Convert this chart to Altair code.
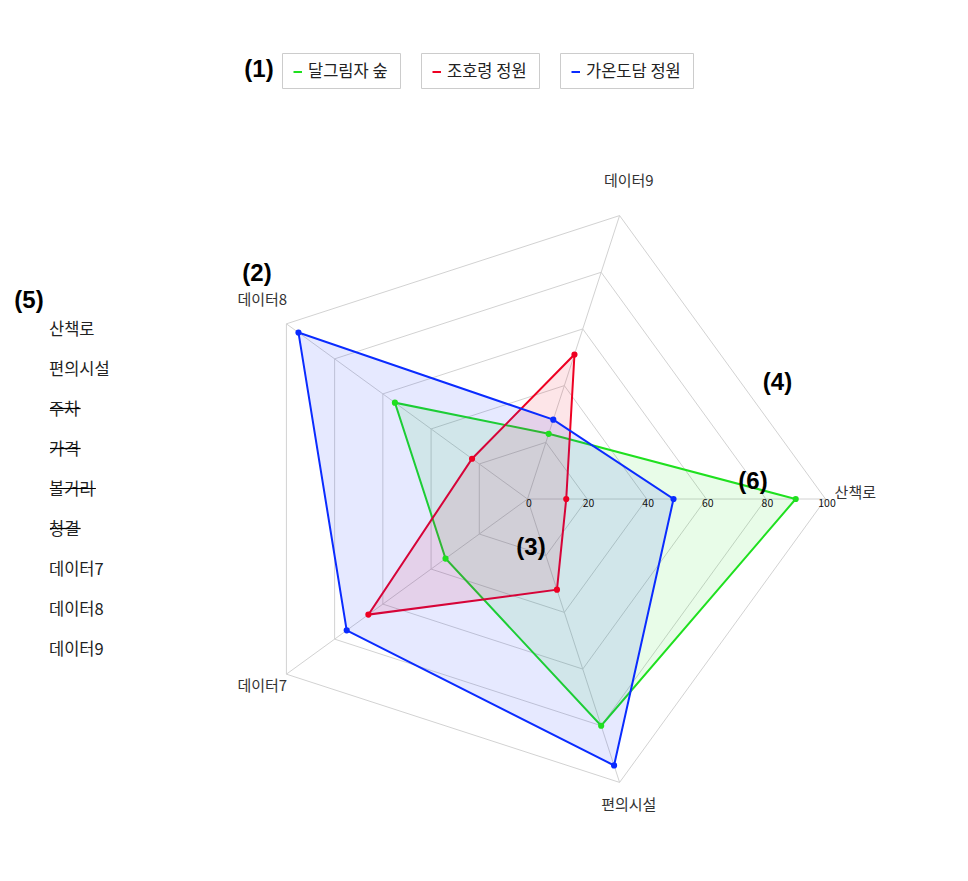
import altair as alt
import pandas as pd

# ---------------- data ----------------
axis_labels = ["산책로", "편의시설", "데이터7", "데이터8", "데이터9"]
series_names = ["달그림자 숲", "조호령 정원", "가온도담 정원"]
series_colors = ["#1fe01f", "#ee0022", "#0a2bff"]
green_values = [90, 80, 34, 55, 23]
red_values = [13, 32, 66, 23, 51]
blue_values = [49, 94, 75, 95, 28]
grid_levels = [20, 40, 60, 80, 100]
tick_values = [0, 20, 40, 60, 80, 100]
list_items = ["산책로", "편의시설", "주차", "가격", "볼거리", "청결", "데이터7", "데이터8", "데이터9"]
hidden_items = ["주차", "가격", "볼거리", "청결"]
annotation_labels = ["(1)", "(2)", "(3)", "(4)", "(5)", "(6)"]

# ---------------- layout (plot-area pixels) ----------------
W, H = 950, 860
CX, CY = 519.5, 491.0      # radar centre
PX = 2.98                  # pixels per value unit
KR = "Noto Sans CJK KR"
LEGEND_BOXES = [(274.5, 392.5), (413.5, 531.5), (552.5, 685.5)]
LEGEND_TOP, LEGEND_BOTTOM, LEGEND_MID = 45.5, 80.5, 64
ANNOT_POS = [(251, 62), (249, 266), (523, 540), (769.5, 374.5), (21, 293), (745, 474)]
LIST_X = 41
LIST_Y0, LIST_Y1 = 322, 642
STRIKE_Y0, STRIKE_Y1 = 320.5, 640.5

xs = alt.Scale(domain=[-CX / PX, (W - CX) / PX], nice=False, zero=False)
ys = alt.Scale(domain=[-(H - CY) / PX, CY / PX], nice=False, zero=False)
X = lambda f: alt.X(f, type="quantitative", scale=xs, axis=None)
Y = lambda f: alt.Y(f, type="quantitative", scale=ys, axis=None)

ANG = "datum.k * 2 * PI / 5"

# ---------------- tables ----------------
rows = []
for name, vals in zip(series_names, [green_values, red_values, blue_values]):
    for k, v in enumerate(vals):
        rows.append({"series": name, "k": k, "value": v})
radar_df = pd.DataFrame(rows)

grid_df = pd.DataFrame([{"level": lv, "k": k} for lv in grid_levels for k in range(len(axis_labels))])
axis_df = pd.DataFrame({"k": list(range(len(axis_labels))), "label": axis_labels})
tick_df = pd.DataFrame({"t": tick_values})
list_df = pd.DataFrame({"i": list(range(len(list_items))), "item": list_items,
                        "hidden": [it in hidden_items for it in list_items]})
legend_df = pd.DataFrame({"series": series_names, "color": series_colors})
annot_df = pd.DataFrame({"label": annotation_labels})

layers = []

# grid pentagons
layers.append(
    alt.Chart(grid_df)
    .transform_calculate(x=f"datum.level * cos({ANG})", y=f"-datum.level * sin({ANG})")
    .mark_line(interpolate="linear-closed", stroke="#d2d2d2", strokeWidth=1)
    .encode(x=X("x"), y=Y("y"), detail="level:N", order=alt.Order("k:Q"))
)
# spokes
layers.append(
    alt.Chart(axis_df)
    .transform_calculate(x0="0", y0="0", x1=f"100 * cos({ANG})", y1=f"-100 * sin({ANG})")
    .mark_rule(stroke="#d2d2d2", strokeWidth=1)
    .encode(x=X("x0"), y=Y("y0"), x2="x1:Q", y2="y1:Q")
)
# series polygons
for name, col in zip(series_names, series_colors):
    layers.append(
        alt.Chart(radar_df)
        .transform_filter(alt.datum.series == name)
        .transform_calculate(x=f"datum.value * cos({ANG})", y=f"-datum.value * sin({ANG})")
        .mark_line(interpolate="linear-closed", stroke=col, strokeWidth=2, fill=col, fillOpacity=0.1)
        .encode(x=X("x"), y=Y("y"), order=alt.Order("k:Q"))
    )
for name, col in zip(series_names, series_colors):
    layers.append(
        alt.Chart(radar_df)
        .transform_filter(alt.datum.series == name)
        .transform_calculate(x=f"datum.value * cos({ANG})", y=f"-datum.value * sin({ANG})")
        .mark_circle(size=38, color=col, opacity=1)
        .encode(x=X("x"), y=Y("y"))
    )
# tick labels
layers.append(
    alt.Chart(tick_df)
    .transform_calculate(z="0")
    .mark_text(fontSize=10.5, dx=1.5, dy=5, align="center", baseline="middle", color="#111", font=KR)
    .encode(x=X("t"), y=Y("z"), text="t:Q")
)
# axis labels
layers.append(
    alt.Chart(axis_df)
    .transform_calculate(x=f"110 * cos({ANG})", y=f"-110 * sin({ANG})")
    .mark_text(fontSize=15, dy=-6, align="center", baseline="middle", color="#333", font=KR)
    .encode(x=X("x"), y=Y("y"), text="label:N")
)
# legend boxes
for (l, r), name, col in zip(LEGEND_BOXES, series_names, series_colors):
    one = alt.Chart(legend_df).transform_filter(alt.datum.series == name)
    layers.append(one.mark_rect(fill="white", stroke="#cccccc", strokeWidth=1).encode(
        x=alt.value(l), x2=alt.value(r), y=alt.value(LEGEND_TOP), y2=alt.value(LEGEND_BOTTOM)))
    layers.append(one.mark_rule(stroke=col, strokeWidth=2).encode(
        x=alt.value(l + 11), x2=alt.value(l + 19.5), y=alt.value(LEGEND_MID)))
    layers.append(one.mark_text(align="left", baseline="middle", fontSize=16.5, color="#222", font=KR).encode(
        x=alt.value(l + 25.5), y=alt.value(LEGEND_MID), text="series:N"))
# left list
list_scale = alt.Scale(domain=[0, len(list_items) - 1], range=[LIST_Y0, LIST_Y1], nice=False, zero=False)
strike_scale = alt.Scale(domain=[0, len(list_items) - 1], range=[STRIKE_Y0, STRIKE_Y1], nice=False, zero=False)
layers.append(
    alt.Chart(list_df)
    .mark_text(align="left", baseline="middle", fontSize=16.5, color="#222", font=KR)
    .encode(x=alt.value(LIST_X), y=alt.Y("i:Q", scale=list_scale, axis=None), text="item:N")
)
layers.append(
    alt.Chart(list_df)
    .transform_filter(alt.datum.hidden)
    .transform_calculate(sx1=f"{LIST_X + 1}", sx2=f"{LIST_X + 1} + 15.3 * length(datum.item)")
    .mark_rule(stroke="#000", strokeWidth=1.2)
    .encode(x=alt.X("sx1:Q", scale=None, axis=None), x2="sx2:Q",
            y=alt.Y("i:Q", scale=strike_scale, axis=None))
)
# annotations
for lab, (ax, ay) in zip(annotation_labels, ANNOT_POS):
    layers.append(
        alt.Chart(annot_df)
        .transform_filter(alt.datum.label == lab)
        .mark_text(fontSize=24, fontWeight="bold", font="Liberation Sans", color="#000",
                   align="center", baseline="middle")
        .encode(x=alt.value(ax), y=alt.value(ay), text="label:N")
    )

chart = (
    alt.layer(*layers)
    .resolve_scale(x="independent", y="independent")
    .properties(width=W, height=H, padding=0, background="white")
    .configure_view(stroke=None)
)
chart.save("out.html", embed_options={"renderer": "svg", "actions": False})
